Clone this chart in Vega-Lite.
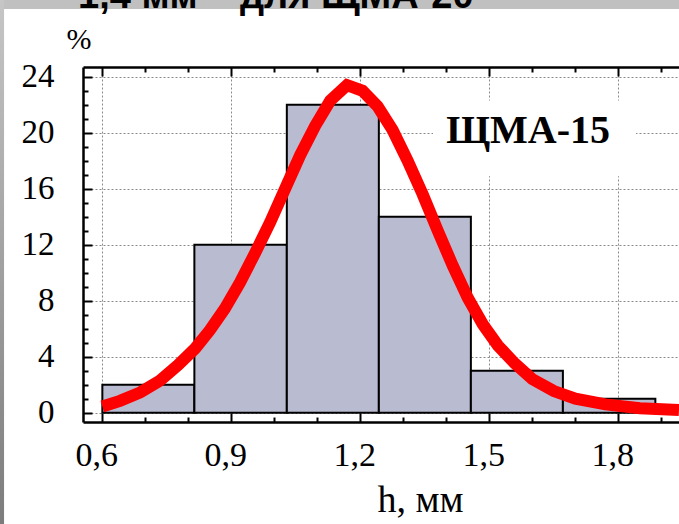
{
  "$schema": "https://vega.github.io/schema/vega-lite/v6.json",
  "width": 596,
  "height": 355,
  "autosize": {"type": "none"},
  "padding": {"left": 83, "top": 67, "right": 0, "bottom": 102},
  "background": "white",
  "config": {
    "view": {"stroke": null},
    "axis": {
      "domainColor": "black",
      "domainWidth": 2.5,
      "tickColor": "black",
      "tickWidth": 2,
      "labelFont": "Liberation Serif",
      "labelFontSize": 34,
      "labelColor": "black",
      "labelFlush": false,
      "labelOverlap": false,
      "labelBound": false,
      "titleFont": "Liberation Serif",
      "titleFontWeight": "normal",
      "titleColor": "black",
      "gridColor": "#8a8a8a",
      "gridDash": [2, 2],
      "gridWidth": 1
    }
  },
  "datasets": {
    "bars": [
      {"h0": 0.6, "h1": 0.814, "pct": 2},
      {"h0": 0.814, "h1": 1.029, "pct": 12},
      {"h0": 1.029, "h1": 1.243, "pct": 22},
      {"h0": 1.243, "h1": 1.457, "pct": 14},
      {"h0": 1.457, "h1": 1.671, "pct": 3},
      {"h0": 1.671, "h1": 1.886, "pct": 1}
    ],
    "curve": [
      {"h": 0.600, "pct": 0.45},
      {"h": 0.641, "pct": 0.85},
      {"h": 0.688, "pct": 1.45},
      {"h": 0.734, "pct": 2.3},
      {"h": 0.776, "pct": 3.4},
      {"h": 0.816, "pct": 4.6},
      {"h": 0.850, "pct": 5.9},
      {"h": 0.885, "pct": 7.45},
      {"h": 0.920, "pct": 9.3},
      {"h": 0.955, "pct": 11.4},
      {"h": 0.990, "pct": 13.6},
      {"h": 1.025, "pct": 16.0},
      {"h": 1.060, "pct": 18.4},
      {"h": 1.095, "pct": 20.5},
      {"h": 1.130, "pct": 22.3},
      {"h": 1.169, "pct": 23.4},
      {"h": 1.205, "pct": 23.0},
      {"h": 1.240, "pct": 21.9},
      {"h": 1.275, "pct": 20.2},
      {"h": 1.310, "pct": 18.0},
      {"h": 1.345, "pct": 15.6},
      {"h": 1.380, "pct": 13.0},
      {"h": 1.415, "pct": 10.5},
      {"h": 1.450, "pct": 8.2},
      {"h": 1.485, "pct": 6.3},
      {"h": 1.520, "pct": 4.8},
      {"h": 1.560, "pct": 3.5},
      {"h": 1.600, "pct": 2.4},
      {"h": 1.650, "pct": 1.55},
      {"h": 1.700, "pct": 1.0},
      {"h": 1.770, "pct": 0.6},
      {"h": 1.850, "pct": 0.33},
      {"h": 1.941, "pct": 0.19}
    ]
  },
  "resolve": {"axis": {"x": "independent", "y": "independent"}},
  "layer": [
    {
      "data": {"values": [{}]},
      "mark": {"type": "rect", "fill": "#c0c0c0"},
      "encoding": {
        "x": {"datum": 0.36, "type": "quantitative", "axis": null},
        "x2": {"datum": 1.95},
        "y": {"datum": 29.5, "type": "quantitative", "axis": null},
        "y2": {"datum": 28.84}
      }
    },
    {
      "data": {"values": [{}]},
      "mark": {
        "type": "rect",
        "fill": {
          "gradient": "linear",
          "x1": 0, "y1": 0, "x2": 0, "y2": 1,
          "stops": [
            {"offset": 0, "color": "#c6c6c6"},
            {"offset": 1, "color": "#7c7c7c"}
          ]
        }
      },
      "encoding": {
        "x": {"datum": 0.36, "type": "quantitative", "axis": null},
        "x2": {"datum": 0.3714},
        "y": {"datum": 29.5, "type": "quantitative", "axis": null},
        "y2": {"datum": -8}
      }
    },
    {
      "data": {"values": [{}]},
      "mark": {
        "type": "text",
        "text": "1,4 мм – для ЩМА-20",
        "font": "Liberation Sans",
        "fontSize": 38,
        "fontWeight": "bold",
        "color": "black",
        "align": "left",
        "baseline": "alphabetic"
      },
      "encoding": {
        "x": {"datum": 0.5435, "type": "quantitative", "axis": null},
        "y": {"datum": 28.9, "type": "quantitative", "axis": null}
      }
    },
    {
      "data": {"name": "bars"},
      "mark": {"type": "rect", "fill": "#b9bbd1", "stroke": "black", "strokeWidth": 2},
      "encoding": {
        "x": {
          "field": "h0",
          "type": "quantitative",
          "scale": {"domain": [0.555, 1.941], "nice": false, "zero": false},
          "axis": {
            "orient": "bottom",
            "values": [0.6, 0.9, 1.2, 1.5, 1.8],
            "ticks": false,
            "tickSize": 0,
            "labelPadding": 16,
            "labelOffset": -6,
            "labelExpr": "replace(format(datum.value, '.1f'), '.', ',')",
            "grid": true,
            "domain": true,
            "title": "h, мм",
            "titleFontSize": 38,
            "titleX": 337,
            "titleY": 89,
            "titleAlign": "center",
            "titleBaseline": "alphabetic",
            "titleAngle": 0
          }
        },
        "x2": {"field": "h1"},
        "y": {
          "field": "pct",
          "type": "quantitative",
          "scale": {"domain": [-0.66, 24.7], "nice": false, "zero": false},
          "axis": {
            "orient": "left",
            "values": [0, 4, 8, 12, 16, 20, 24],
            "ticks": false,
            "tickSize": 0,
            "labelPadding": 29,
            "labelFontSize": 33,
            "grid": true,
            "domain": true,
            "title": "%",
            "titleFontSize": 30,
            "titleAngle": 0,
            "titleX": -4.5,
            "titleY": -19,
            "titleAlign": "center",
            "titleBaseline": "alphabetic"
          }
        },
        "y2": {"datum": 0}
      }
    },
    {
      "data": {"values": [{}]},
      "mark": {"type": "rect", "fill": "white"},
      "encoding": {
        "x": {
          "datum": 1.369,
          "type": "quantitative",
          "axis": {
            "orient": "bottom",
            "values": [0.6, 0.7, 0.8, 0.9, 1.0, 1.1, 1.2, 1.3, 1.4, 1.5, 1.6, 1.7, 1.8, 1.9],
            "labels": false,
            "domain": false,
            "grid": false,
            "title": null,
            "ticks": true,
            "tickSize": {"condition": {"test": "round(datum.value * 10) % 3 == 0", "value": -9}, "value": -5}
          }
        },
        "x2": {"datum": 1.841},
        "y": {"datum": 22.3, "type": "quantitative", "axis": null},
        "y2": {"datum": 16.9}
      }
    },
    {
      "data": {"values": [{}]},
      "mark": {
        "type": "text",
        "text": "ЩМА-15",
        "font": "Liberation Serif",
        "fontSize": 40,
        "fontWeight": "bold",
        "color": "black",
        "align": "center",
        "baseline": "alphabetic"
      },
      "encoding": {
        "x": {"datum": 1.59, "type": "quantitative", "axis": null},
        "y": {"datum": 19.26, "type": "quantitative", "axis": null}
      }
    },
    {
      "data": {"name": "curve"},
      "mark": {"type": "line", "color": "#ff0000", "strokeWidth": 12, "strokeCap": "butt"},
      "encoding": {
        "x": {
          "field": "h",
          "type": "quantitative",
          "axis": {
            "orient": "top",
            "values": [0.6, 0.7, 0.8, 0.9, 1.0, 1.1, 1.2, 1.3, 1.4, 1.5, 1.6, 1.7, 1.8, 1.9],
            "labels": false,
            "grid": false,
            "domain": true,
            "title": null,
            "ticks": true,
            "tickSize": {"condition": {"test": "round(datum.value * 10) % 3 == 0", "value": -9}, "value": -5}
          }
        },
        "y": {
          "field": "pct",
          "type": "quantitative",
          "axis": {
            "orient": "left",
            "values": [0, 1, 2, 3, 4, 5, 6, 7, 8, 9, 10, 11, 12, 13, 14, 15, 16, 17, 18, 19, 20, 21, 22, 23, 24],
            "labels": false,
            "grid": false,
            "domain": false,
            "title": null,
            "ticks": true,
            "tickSize": {"condition": {"test": "datum.value % 4 == 0", "value": -9}, "value": -5}
          }
        }
      }
    }
  ]
}
